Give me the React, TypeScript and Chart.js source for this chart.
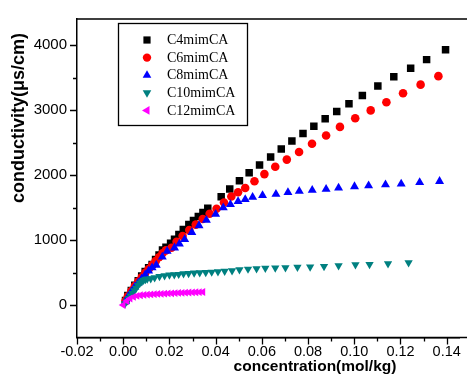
import React, { useEffect, useRef } from 'react';
import { Chart, registerables } from 'chart.js';

Chart.register(...registerables);

// ---------- data ----------
const seriesNames = ['C4mimCA', 'C6mimCA', 'C8mimCA', 'C10mimCA', 'C12mimCA'];
const seriesColors = ['#000000', '#ff0000', '#0000ff', '#008080', '#ff00ff'];

const c4X = [0.001, 0.002, 0.0035, 0.005, 0.0065, 0.008, 0.0095, 0.011, 0.0125, 0.014, 0.0155, 0.017, 0.0185, 0.0205, 0.0222, 0.0241, 0.026, 0.0284, 0.0304, 0.0325, 0.0345, 0.0366, 0.0424, 0.0461, 0.0503, 0.0545, 0.059, 0.0638, 0.0684, 0.073, 0.0778, 0.0825, 0.0874, 0.0924, 0.0977, 0.1035, 0.1102, 0.1171, 0.1244, 0.1313, 0.1395];
const c4Y = [70, 145, 225, 305, 375, 445, 515, 575, 625, 700, 770, 845, 890, 950, 1010, 1085, 1160, 1240, 1300, 1362, 1425, 1487, 1667, 1785, 1913, 2035, 2154, 2278, 2400, 2522, 2638, 2750, 2866, 2978, 3095, 3222, 3369, 3511, 3642, 3775, 3927];

const c6X = [0.001, 0.002, 0.0035, 0.005, 0.0065, 0.008, 0.0095, 0.011, 0.0125, 0.014, 0.0155, 0.017, 0.0185, 0.0209, 0.0231, 0.0257, 0.0286, 0.0314, 0.0344, 0.0374, 0.0404, 0.0436, 0.0468, 0.0497, 0.0528, 0.0568, 0.0611, 0.0658, 0.0708, 0.0761, 0.0817, 0.0878, 0.0938, 0.1004, 0.1071, 0.1139, 0.1211, 0.1287, 0.1364];
const c6Y = [65, 135, 215, 290, 360, 425, 495, 555, 615, 675, 735, 795, 840, 880, 974, 1061, 1152, 1237, 1324, 1405, 1481, 1578, 1670, 1735, 1801, 1903, 2014, 2126, 2237, 2354, 2481, 2607, 2740, 2872, 2994, 3120, 3257, 3390, 3521];

const c8X = [0.001, 0.002, 0.0035, 0.005, 0.0065, 0.008, 0.0095, 0.011, 0.0125, 0.0143, 0.0169, 0.019, 0.0222, 0.0243, 0.0266, 0.0297, 0.0328, 0.036, 0.04, 0.0433, 0.0464, 0.0497, 0.0528, 0.056, 0.0603, 0.0661, 0.0713, 0.0762, 0.0818, 0.0878, 0.0932, 0.1001, 0.1062, 0.1135, 0.1203, 0.1283, 0.1369];
const c8Y = [60, 125, 205, 280, 345, 405, 465, 525, 575, 615, 741, 827, 880, 940, 1009, 1116, 1222, 1304, 1396, 1496, 1548, 1594, 1624, 1659, 1685, 1705, 1731, 1750, 1766, 1781, 1801, 1822, 1837, 1852, 1862, 1887, 1903];

const c10X = [0.0008, 0.0016, 0.0024, 0.0032, 0.004, 0.0048, 0.0056, 0.0064, 0.0072, 0.008, 0.0088, 0.0096, 0.0104, 0.0119, 0.0136, 0.0157, 0.0179, 0.02, 0.0221, 0.024, 0.0261, 0.0283, 0.0307, 0.0331, 0.0357, 0.0383, 0.041, 0.0439, 0.0471, 0.0503, 0.054, 0.0577, 0.0615, 0.0658, 0.0702, 0.0754, 0.0809, 0.0869, 0.0932, 0.1005, 0.1066, 0.1146, 0.1235];
const c10Y = [20, 60, 100, 140, 180, 220, 260, 300, 335, 360, 380, 392, 400, 406, 421, 441, 452, 462, 467, 472, 482, 487, 492, 497, 502, 507, 513, 520, 528, 543, 553, 560, 566, 571, 575, 583, 586, 594, 604, 619, 624, 635, 650];

const c12X = [0, 0.0015, 0.003, 0.0045, 0.006, 0.0075, 0.009, 0.0105, 0.012, 0.0135, 0.015, 0.0165, 0.018, 0.0195, 0.021, 0.0225, 0.024, 0.0255, 0.027, 0.0285, 0.03, 0.0315, 0.033, 0.0345];
const c12Y = [0, 60, 100, 125, 140, 150, 155, 160, 163, 166, 170, 172, 175, 178, 180, 183, 185, 188, 190, 192, 194, 196, 198, 200];

const xMajorTicks = [-0.02, 0, 0.02, 0.04, 0.06, 0.08, 0.1, 0.12, 0.14];
const xMinorTicks = [-0.01, 0.01, 0.03, 0.05, 0.07, 0.09, 0.11, 0.13];
const yMajorTicks = [0, 1000, 2000, 3000, 4000];
const yMinorTicks = [500, 1500, 2500, 3500];

const xTitle = 'concentration(mol/kg)';
const yTitle = 'conductivity(μs/cm)';

// ---------- helpers ----------
const SANS = '"Liberation Sans", Arial, sans-serif';
const SERIF = '"Liberation Serif", "Times New Roman", serif';

type MarkerKind = 'rect' | 'circle' | 'up' | 'down' | 'left';
const markerKinds: MarkerKind[] = ['rect', 'circle', 'up', 'down', 'left'];

function drawMarker(ctx: CanvasRenderingContext2D, kind: MarkerKind, x: number, y: number, color: string) {
  ctx.save();
  ctx.fillStyle = color;
  ctx.beginPath();
  if (kind === 'rect') {
    ctx.rect(x - 3.6, y - 3.6, 7.2, 7.2);
  } else if (kind === 'circle') {
    ctx.arc(x, y, 4.2, 0, Math.PI * 2);
  } else {
    const r = 5;
    const rot = kind === 'up' ? 0 : kind === 'down' ? Math.PI : -Math.PI / 2;
    for (let i = 0; i < 3; i++) {
      const a = rot + i * (2 * Math.PI / 3);
      const px = x + Math.sin(a) * r;
      const py = y - Math.cos(a) * r;
      if (i === 0) ctx.moveTo(px, py); else ctx.lineTo(px, py);
    }
    ctx.closePath();
  }
  ctx.fill();
  ctx.restore();
}

const decorPlugin = {
  id: 'decor',
  afterDraw(chart: any) {
    const ctx: CanvasRenderingContext2D = chart.ctx;
    const { left, top, bottom } = chart.chartArea;
    const fullRight = chart.width;
    const xs = chart.scales.x;
    const ys = chart.scales.y;
    ctx.save();
    ctx.strokeStyle = '#000';
    ctx.lineWidth = 1.5;
    ctx.beginPath();
    ctx.moveTo(left, top);
    ctx.lineTo(fullRight, top);
    ctx.moveTo(left, bottom);
    ctx.lineTo(fullRight, bottom);
    ctx.stroke();

    ctx.lineWidth = 1.3;
    ctx.beginPath();
    for (const v of yMajorTicks) {
      const p = Math.round(ys.getPixelForValue(v)) + 0.5;
      ctx.moveTo(left - 7, p); ctx.lineTo(left, p);
    }
    for (const v of yMinorTicks) {
      const p = Math.round(ys.getPixelForValue(v)) + 0.5;
      ctx.moveTo(left - 4, p); ctx.lineTo(left, p);
    }
    for (const v of xMajorTicks) {
      const p = Math.round(xs.getPixelForValue(v)) + 0.5;
      ctx.moveTo(p, bottom); ctx.lineTo(p, bottom + 7);
    }
    for (const v of xMinorTicks) {
      const p = Math.round(xs.getPixelForValue(v)) + 0.5;
      ctx.moveTo(p, bottom); ctx.lineTo(p, bottom + 4);
    }
    ctx.stroke();

    // axis titles
    ctx.fillStyle = '#000';
    ctx.textAlign = 'center';
    ctx.textBaseline = 'middle';
    ctx.font = 'bold 15.5px ' + SANS;
    ctx.fillText(xTitle, 315, 367);
    ctx.save();
    ctx.translate(19, 118);
    ctx.rotate(-Math.PI / 2);
    ctx.font = 'bold 18px ' + SANS;
    ctx.fillText(yTitle, 0, 0);
    ctx.restore();

    // legend
    ctx.lineWidth = 1.3;
    ctx.strokeStyle = '#000';
    ctx.fillStyle = '#fff';
    ctx.fillRect(118.5, 23.5, 129, 102);
    ctx.strokeRect(118.5, 23.5, 129, 102);
    ctx.textAlign = 'left';
    ctx.font = '14px ' + SERIF;
    seriesNames.forEach((name, i) => {
      const cy = 40 + i * 17.6;
      drawMarker(ctx, markerKinds[i], 147, cy, seriesColors[i]);
      ctx.fillStyle = '#000';
      ctx.fillText(name, 167, cy + 0.5);
    });
    ctx.restore();
  },
};

function makeData(xs: number[], ys: number[]) {
  return xs.map((x, i) => ({ x, y: ys[i] }));
}

export default function App() {
  const canvasRef = useRef<HTMLCanvasElement | null>(null);

  useEffect(() => {
    const canvas = canvasRef.current;
    if (!canvas) return;
    const common = { showLine: false, pointBorderWidth: 0, pointHoverRadius: 0 };
    const chart = new Chart(canvas, {
      type: 'scatter',
      data: {
        datasets: [
          { ...common, label: seriesNames[0], data: makeData(c4X, c4Y), pointStyle: 'rect', pointRadius: 5.3, backgroundColor: seriesColors[0], borderColor: seriesColors[0], order: 5 },
          { ...common, label: seriesNames[1], data: makeData(c6X, c6Y), pointStyle: 'circle', pointRadius: 4.3, backgroundColor: seriesColors[1], borderColor: seriesColors[1], order: 4 },
          { ...common, label: seriesNames[2], data: makeData(c8X, c8Y), pointStyle: 'triangle', pointRadius: 5.2, backgroundColor: seriesColors[2], borderColor: seriesColors[2], order: 3 },
          { ...common, label: seriesNames[3], data: makeData(c10X, c10Y), pointStyle: 'triangle', rotation: 180, pointRadius: 4.8, backgroundColor: seriesColors[3], borderColor: seriesColors[3], order: 2 },
          { ...common, label: seriesNames[4], data: makeData(c12X, c12Y), pointStyle: 'triangle', rotation: -90, pointRadius: 4.5, backgroundColor: seriesColors[4], borderColor: seriesColors[4], order: 1 },
        ] as any,
      },
      options: {
        animation: false,
        responsive: true,
        maintainAspectRatio: false,
        layout: { padding: { top: 15, right: 0, left: 0, bottom: 0 } },
        plugins: {
          legend: { display: false },
          tooltip: { enabled: false },
          title: { display: false },
        },
        scales: {
          x: {
            type: 'linear',
            min: -0.02,
            max: 0.1455,
            grid: { display: false, drawTicks: false },
            border: { display: true, color: '#000', width: 1.5 },
            ticks: {
              padding: 6,
              color: '#000',
              autoSkip: false,
              maxRotation: 0,
              font: { family: SANS, size: 14.5 },
              callback: (v: any) => Number(v).toFixed(2),
            },
            afterBuildTicks: (s: any) => { s.ticks = xMajorTicks.map((v) => ({ value: v })); },
            afterFit: (s: any) => { s.height = 54.5; },
          },
          y: {
            type: 'linear',
            min: -500,
            max: 4400,
            grid: { display: false, drawTicks: false },
            border: { display: true, color: '#000', width: 1.5 },
            ticks: {
              padding: 10,
              color: '#000',
              autoSkip: false,
              font: { family: SANS, size: 15 },
              callback: (v: any) => String(v),
            },
            afterBuildTicks: (s: any) => { s.ticks = yMajorTicks.map((v) => ({ value: v })); },
            afterFit: (s: any) => { s.width = 77; },
          },
        },
      } as any,
      plugins: [decorPlugin],
    });
    return () => chart.destroy();
  }, []);

  return (
    <div style={{ position: 'absolute', left: 0, top: 0, width: 467, height: 392, background: '#fff' }}>
      <canvas ref={canvasRef} />
    </div>
  );
}
